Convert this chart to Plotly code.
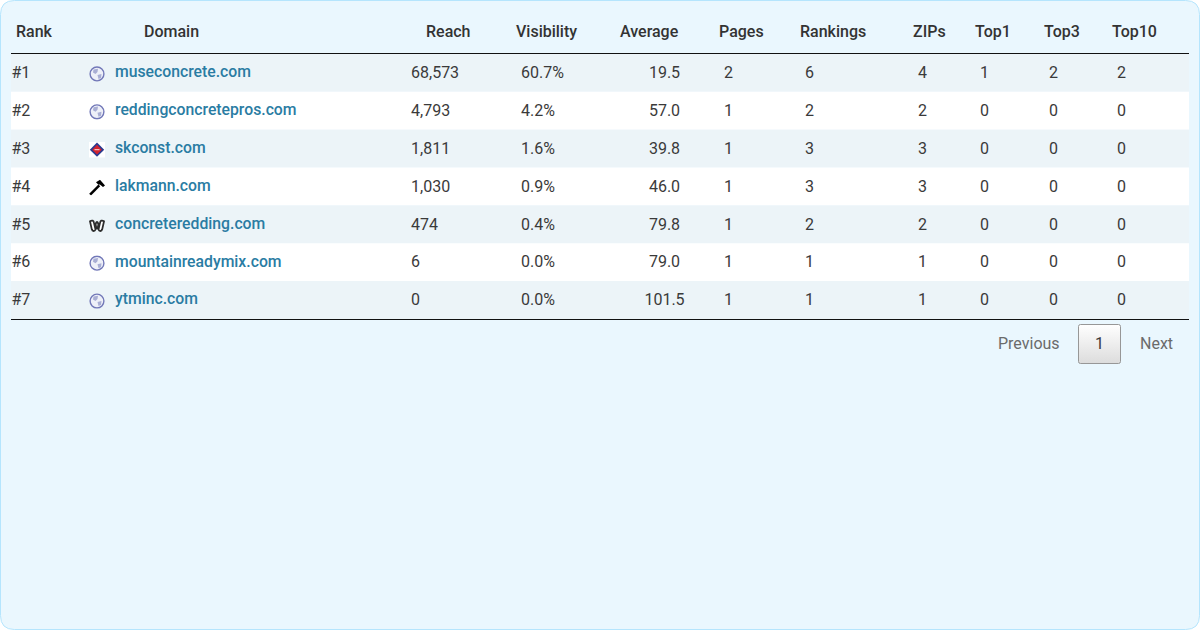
import base64
import plotly.graph_objects as go

headers = ["Rank", "Domain", "Reach", "Visibility", "Average", "Pages", "Rankings", "ZIPs", "Top1", "Top3", "Top10"]
ranks = ["#1", "#2", "#3", "#4", "#5", "#6", "#7"]
domains = ["museconcrete.com", "reddingconcretepros.com", "skconst.com", "lakmann.com",
           "concreteredding.com", "mountainreadymix.com", "ytminc.com"]
icons = ["globe", "globe", "diamond", "hammer", "weebly", "globe", "globe"]
reach = ["68,573", "4,793", "1,811", "1,030", "474", "6", "0"]
visibility = ["60.7%", "4.2%", "1.6%", "0.9%", "0.4%", "0.0%", "0.0%"]
average = ["19.5", "57.0", "39.8", "46.0", "79.8", "79.0", "101.5"]
pages = ["2", "1", "1", "1", "1", "1", "1"]
rankings = ["6", "2", "3", "3", "2", "1", "1"]
zips = ["4", "2", "3", "3", "2", "1", "1"]
top1 = ["1", "0", "0", "0", "0", "0", "0"]
top3 = ["2", "0", "0", "0", "0", "0", "0"]
top10 = ["2", "0", "0", "0", "0", "0", "0"]

FONT = "Roboto"
DARK = "#3a3a3a"
LINK = "#2a7ca3"
ROW_TOP = 54
ROW_H = 37.85
TEXT_DROP = 1.25
row_y = [ROW_TOP + ROW_H * (i + 0.5) for i in range(len(ranks))]
text_y = [y + TEXT_DROP for y in row_y]

header_x = [16, 144, 426, 516, 620, 719, 800, 913, 975, 1044, 1112]


def svg_uri(body, w=16, h=16):
    svg = f'<svg xmlns="http://www.w3.org/2000/svg" width="{w}" height="{h}" viewBox="0 0 {w} {h}">{body}</svg>'
    return "data:image/svg+xml;base64," + base64.b64encode(svg.encode()).decode()


ICON_SVG = {
    "globe": svg_uri('<circle cx="8" cy="8" r="6.9" fill="#eef0f8" stroke="#7278b8" stroke-width="1.4"/>'
                     '<path d="M4.5 3.5 L9 2.8 L8.5 6 L6.5 8 L4 6.5Z M8.5 9 L12.5 8 L12 12 L9.5 13Z" fill="#a9aed4"/>'),
    "diamond": svg_uri('<rect width="16" height="16" fill="#ffffff"/>'
                       '<path d="M8 0.8 L15.2 8 L8 15.2 L0.8 8Z" fill="#2a3a90"/>'
                       '<path d="M8 3.2 L12.8 8 L8 12.8 L3.2 8Z" fill="#d2232f"/>'
                       '<path d="M5.5 7.3 L10.5 7.3 L10.5 8.7 L5.5 8.7Z" fill="#f3b9bd"/>'),
    "hammer": svg_uri('<path d="M0.2 14.2 L9.4 5 L11.2 6.8 L2 16Z" fill="#000000"/>'
                      '<path d="M7 2.8 L11 0.2 L16 6 L14 7.6 L10.8 5 L9.4 5.2Z" fill="#000000"/>'),
    "weebly": svg_uri('<path d="M1 4 C3.2 2.4 4.6 3.4 5 5.4 L5.9 9.4 L7 5.8 C7.5 4.2 8.5 4.2 9 5.8 L10.1 9.4 L11 5.4 '
                      'C11.4 3.4 12.8 2.4 15 4 L13.2 12 C12.6 14.2 10.2 14.2 9.5 12.2 L8 9.2 L6.5 12.2 '
                      'C5.8 14.2 3.4 14.2 2.8 12Z" fill="#ffffff" stroke="#2d2d2d" stroke-width="1.8"/>'),
}

button_svg = svg_uri(
    '<defs><linearGradient id="g" x1="0" y1="0" x2="0" y2="1"><stop offset="0" stop-color="#ffffff"/>'
    '<stop offset="1" stop-color="#dcdcdc"/></linearGradient></defs>'
    '<rect x="0.5" y="0.5" width="42" height="39" rx="2" fill="url(#g)" stroke="#979797"/>', 43, 40)

fig = go.Figure()


def add_text(xs, ys, texts, color=DARK, size=16, weight=400, pos="middle right"):
    fig.add_trace(go.Scatter(
        x=xs, y=ys, text=texts, mode="text", textposition=pos, hoverinfo="skip", showlegend=False,
        textfont=dict(family=FONT, size=size, color=color, weight=weight),
    ))


add_text(header_x, [32.5] * len(headers), headers, color="#333333", weight=500)

left_cols = [(11.5, ranks), (411, reach), (521, visibility), (724, pages), (805, rankings),
             (918, zips), (980, top1), (1049, top3), (1117, top10)]
for col_x, values in left_cols:
    add_text([col_x] * len(values), text_y, values)
add_text([664.5] * len(average), text_y, average, pos="middle center")
add_text([115] * len(domains), [y - 0.75 for y in text_y], domains, color=LINK, size=15.75, weight=500)

add_text([998, 1140], [345, 345], ["Previous", "Next"], color="#6b6b6b")
add_text([1099.5], [345], ["1"], pos="middle center")

shapes = [dict(type="path", xref="x", yref="y", layer="below",
               path="M 14.5 0.5 L 1185.5 0.5 Q 1199.5 0.5 1199.5 14.5 L 1199.5 615.5 Q 1199.5 629.5 1185.5 629.5 "
                    "L 14.5 629.5 Q 0.5 629.5 0.5 615.5 L 0.5 14.5 Q 0.5 0.5 14.5 0.5 Z",
               fillcolor="#eaf7fe", line=dict(color="#b5e5fd", width=1))]
for i in range(len(ranks)):
    shapes.append(dict(type="rect", xref="x", yref="y", layer="below", x0=11, x1=1189,
                       y0=ROW_TOP + ROW_H * i, y1=ROW_TOP + ROW_H * (i + 1),
                       fillcolor="#ecf4f8" if i % 2 == 0 else "#ffffff", line=dict(width=0)))
for line_y in [53.5, 319.5]:
    shapes.append(dict(type="line", xref="x", yref="y", x0=11, x1=1189, y0=line_y, y1=line_y,
                       line=dict(color="#111111", width=1)))

images = [dict(source=ICON_SVG[icon], xref="x", yref="y", x=89, y=y + 1, sizex=16, sizey=16,
               xanchor="left", yanchor="middle", layer="above")
          for icon, y in zip(icons, row_y)]
images.append(dict(source=button_svg, xref="x", yref="y", x=1078, y=324, sizex=43, sizey=40,
                   xanchor="left", yanchor="top", layer="below"))

fig.update_layout(
    width=1200, height=630, margin=dict(l=0, r=0, t=0, b=0),
    paper_bgcolor="#ffffff", plot_bgcolor="rgba(0,0,0,0)",
    xaxis=dict(range=[0, 1200], visible=False, fixedrange=True),
    yaxis=dict(range=[630, 0], visible=False, fixedrange=True),
    shapes=shapes, images=images, showlegend=False,
)

fig.write_html("out.html", config=dict(displayModeBar=False), post_script="document.body.style.margin='0';")
